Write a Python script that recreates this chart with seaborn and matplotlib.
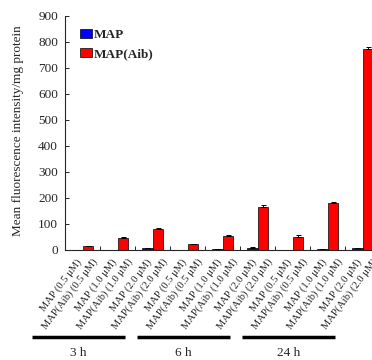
import matplotlib
matplotlib.use('Agg')
import matplotlib.pyplot as plt
import matplotlib.transforms as mtransforms
from matplotlib.patches import Patch
import seaborn as sns
import numpy as np
import pandas as pd

# data
times = ['3 h', '6 h', '24 h']
concs = ['0.5', '1.0', '2.0']
series = ['MAP', 'MAP(Aib)']
map_vals = [0, 1, 8, 0, 2, 9, 0, 2, 8]
map_err = [0, 0.5, 1, 0, 0.5, 1.5, 0, 0.5, 1.5]
aib_vals = [14, 45, 81, 23, 55, 164, 51, 180, 775]
aib_err = [2, 4, 3, 2, 3, 9, 5, 6, 4]
colors = {'MAP': '#0000ff', 'MAP(Aib)': '#ff0000'}

groups = [f'{t}|{c}' for t in times for c in concs]
df = pd.DataFrame({
    'group': groups * 2,
    'series': ['MAP'] * len(groups) + ['MAP(Aib)'] * len(groups),
    'value': map_vals + aib_vals,
})
errs = {'MAP': map_err, 'MAP(Aib)': aib_err}

sns.set_style('ticks')
plt.rcParams['font.family'] = ['Liberation Serif', 'DejaVu Serif']

fig = plt.figure(figsize=(3.72, 3.60), dpi=100)
ax = fig.add_axes([65 / 372, 1 - 250 / 360, 1 - 65 / 372, 234 / 360])

sns.barplot(data=df, x='group', y='value', hue='series', order=groups,
            hue_order=series, palette=colors, width=0.6, errorbar=None,
            saturation=1, edgecolor='black', linewidth=0.5, legend=False, ax=ax)

# error bars on top of bars
for cont, s in zip(ax.containers, series):
    for bar, e in zip(cont, errs[s]):
        if e > 0:
            xc = bar.get_x() + bar.get_width() / 2
            ax.errorbar(xc, bar.get_height(), yerr=[[0], [e]], fmt='none',
                        ecolor='black', elinewidth=0.7, capsize=1.8, capthick=0.7)

ax.set_xlim(-0.5, 8.15)
ax.set_ylim(0, 900)
ax.set_yticks(np.arange(0, 901, 100))
ax.tick_params(axis='y', direction='in', length=3, labelsize=9.5, pad=5, width=0.7)

# one label per bar
pos, labs = [], []
for i, g in enumerate(groups):
    c = g.split('|')[1]
    pos += [i - 0.18, i + 0.27]
    labs += [f'MAP ({c} \u03bcM)', f'MAP(Aib) ({c} \u03bcM)']
ax.set_xticks(pos)
ax.set_xticklabels(labs, rotation=53, ha='right', va='top',
                   rotation_mode='anchor', fontsize=7.6)
ax.tick_params(axis='x', which='major', length=0, pad=5)
ax.set_xticks(np.arange(0.5, 8.5, 1), minor=True)
ax.tick_params(axis='x', which='minor', direction='in', length=3, width=0.7)
ax.set_xlabel('')

for sp in ['top', 'right']:
    ax.spines[sp].set_visible(False)
for sp in ['left', 'bottom']:
    ax.spines[sp].set_linewidth(0.8)

ax.set_ylabel('Mean fluorescence intensity/mg protein', fontsize=9.5)
ax.yaxis.set_label_coords(-0.135, 0.51)

handles = [Patch(facecolor=colors[s], edgecolor='black', linewidth=0.5) for s in series]
ax.legend(handles, series, loc='upper left', bbox_to_anchor=(0.02, 0.985),
          frameon=False, prop={'weight': 'bold', 'size': 9.5},
          handlelength=0.9, handleheight=0.75, handletextpad=0.15,
          labelspacing=0.5, borderpad=0.2)

# time group bars under the labels
trans = mtransforms.blended_transform_factory(ax.transData, fig.transFigure)
for k, t in enumerate(times):
    x0 = 3 * k - 1.45
    x1 = 3 * k + 2 - 0.78
    ax.plot([x0, x1], [1 - 337 / 360] * 2, color='black', lw=2.5,
            transform=trans, clip_on=False, solid_capstyle='butt')
    ax.text((x0 + x1) / 2, 1 - 353 / 360, t, transform=trans, ha='center',
            va='center', fontsize=9.5)

fig.savefig('out.png', dpi=100)
